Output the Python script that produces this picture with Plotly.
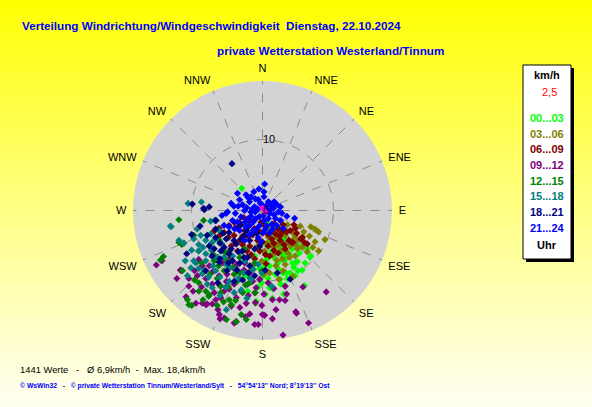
#### Import Modules ####
import numpy as np
import plotly.graph_objects as go


#### Global Objects ####
W, H = 592, 407

# Windrichtungen (Beschriftung der Winkelachse)
richtungen = ["N", "NNE", "NE", "ENE", "E", "ESE", "SE", "SSE",
              "S", "SSW", "SW", "WSW", "W", "WNW", "NW", "NNW"]
richtung_grad = [i * 22.5 for i in range(16)]

# Messpunkte je Zeitfenster als (Ost, Nord) Komponente in km/h, aus dem Bild geschaetzt
punkte_00_03 = [(4.9, -7.2), (6.7, -6.6), (3.3, -8.8), (3.9, -8.8), (3.2, -10.6), (5.9, -10.6),
                (1.5, -11.1), (2.2, -7.3), (2.7, -5.7), (2.8, -6.4), (1.0, -7.8), (0.1, -9.2),
                (-0.4, -8.2), (2.9, -4.0), (2.0, -3.5), (-0.9, -12.8), (-0.1, -10.2), (6.8, -6.4),
                (4.7, -7.3), (2.9, -8.8), (2.0, -7.6), (0.6, -6.9), (3.2, -5.9), (1.3, -5.7),
                (0.1, -8.1), (1.0, -10.9), (-1.0, -13.1), (-2.9, 3.1), (5.3, -5.0), (4.2, -5.4),
                (0.8, -2.8), (1.0, -4.2), (0.5, -1.7), (1.8, -5.0), (3.6, -4.2), (-1.1, -6.4),
                (-1.8, -7.8), (-2.5, -9.2), (4.2, -7.4), (5.0, -8.5), (2.5, -9.7), (-2.1, -11.4),
                (6.0, -7.4), (2.2, -8.2), (3.3, -6.8),
                (0.5, -4.8), (1.6, -6.6), (2.4, -5.2), (3.0, -7.0), (3.8, -6.2), (4.4, -8.0),
                (5.2, -6.0), (2.6, -10.4), (1.8, -9.0), (0.8, -9.6), (3.5, -9.6), (4.6, -9.2),
                (5.6, -8.4), (1.2, -3.4), (2.4, -4.4), (0.4, -6.0), (-0.6, -10.8), (0.4, -11.8),
                (1.4, -12.4), (3.0, -11.8), (6.3, -5.4), (4.0, -4.8), (1.9, -2.5), (0.9, -2.0)]
punkte_03_06 = [(6.8, -2.3), (7.9, -3.0), (8.8, -4.1), (7.9, -5.7), (7.1, -5.2), (6.3, -5.8),
                (4.9, -5.4), (3.9, -5.0), (3.2, -3.5), (2.5, -2.5), (1.8, -3.1), (4.2, -3.1),
                (5.0, -4.2), (5.6, -3.7), (3.6, -6.0), (2.8, -6.8), (1.9, -7.8), (2.9, -8.5),
                (1.0, -8.8), (2.3, -9.7), (0.3, -5.7), (1.3, -4.5), (0.8, -3.7), (2.2, -4.8),
                (4.2, -4.2), (5.3, -2.2), (4.3, -9.3), (-0.1, -7.1), (-0.7, -5.0), (3.5, -2.0),
                (6.0, -4.6), (4.6, -6.4), (1.5, -6.2), (0.2, -9.0), (-1.2, -7.6),
                (1.2, -2.2), (2.0, -3.8), (3.0, -2.8), (3.4, -4.6), (4.6, -3.6), (4.8, -5.0),
                (5.6, -5.2), (2.6, -5.6), (1.6, -5.2), (3.8, -6.6), (5.8, -3.0), (6.6, -3.6),
                (7.4, -4.4), (0.6, -4.6), (2.0, -7.0), (3.2, -7.6), (7.4, -2.6)]
punkte_06_09 = [(3.9, -2.8), (4.6, -2.5), (5.4, -4.0), (5.9, -4.5), (4.1, -4.5), (3.7, -4.2),
                (4.4, -2.0), (5.6, -3.8), (6.3, -4.7), (2.7, -3.1), (4.3, -4.5), (2.2, -2.6),
                (1.8, -3.3), (-4.7, -2.1), (-3.2, -1.7), (-1.8, -1.4), (-2.5, -2.8), (-1.1, -2.5),
                (-0.1, -3.1), (-0.7, -4.2), (-1.8, -5.0), (-3.2, -4.2), (-4.0, -3.5), (0.8, -5.0),
                (1.3, -4.0), (0.3, -2.1), (2.5, -4.2), (3.2, -5.4), (2.2, -6.0), (1.0, -6.4),
                (-4.4, -5.0), (-5.4, -3.1), (-2.2, -5.7), (-0.4, -5.7), (-1.1, -6.8), (-3.5, -5.7),
                (-6.1, -2.5), (-6.8, -2.9), (-6.1, -3.6), (0.5, -7.5), (1.6, -1.8), (-2.0, -3.6),
                (-3.8, -2.4), (-2.8, -3.6), (-2.0, -2.2), (-1.4, -3.4), (-0.6, -2.8), (0.0, -4.4),
                (0.8, -3.4), (1.6, -4.6), (2.4, -3.6), (3.0, -4.8), (3.4, -3.0), (-0.2, -1.6),
                (-1.0, -1.2), (-2.6, -1.0), (-3.8, -4.6), (-2.8, -4.8), (1.6, -5.6), (0.4, -6.2),
                (-1.6, -6.2), (-4.8, -3.8), (4.8, -3.2), (2.9, -2.0)]
punkte_09_12 = [(-15.0, -7.7), (-14.2, -7.1), (-12.1, -9.6), (-10.1, -15.6), (-9.4, -13.1),
                (-8.5, -13.1), (-7.8, -13.2), (-7.1, -13.2), (-6.3, -14.0), (-6.1, -14.7),
                (-5.4, -15.2), (-4.0, -15.9), (-3.7, -15.7), (-2.4, -15.0), (-1.8, -14.6),
                (-3.2, -13.7), (-4.4, -13.5), (-1.1, -16.1), (-0.6, -16.1), (-0.1, -13.4),
                (0.3, -14.8), (1.4, -12.6), (1.9, -14.0), (3.4, -11.8), (2.9, -17.6), (4.8, -14.5),
                (6.5, -15.9), (9.0, -11.5), (5.7, -10.8), (-1.1, -11.6), (0.0, -14.7), (1.4, -15.3),
                (-11.5, -8.5), (-8.0, -13.3), (-6.0, -15.3), (-2.3, -13.1), (4.7, -14.3),
                (3.2, -12.7), (3.2, -10.7), (-3.7, -12.3), (-4.7, -11.1), (-5.1, -10.0),
                (-8.5, -7.8), (-9.2, -9.2), (-6.8, -11.6), (-5.9, -12.3), (-3.2, -9.7),
                (-2.1, -10.4), (-0.9, -10.9), (-7.5, -7.8), (-6.1, -9.2), (-4.0, -8.2),
                (-2.5, -7.4), (-4.7, -6.8), (-6.8, -6.4), (-9.0, -6.9), (-5.4, -11.4),
                (-0.4, -9.7), (0.8, -10.2), (-1.8, -8.8), (-10.4, -10.7), (-9.6, -8.5),
                (-10.8, -12.2), (-7.1, -10.4), (-10.4, -9.6), (-11.6, -8.4),
                (-8.0, -9.6), (-7.0, -8.6), (-6.0, -10.6), (-5.0, -9.0), (-4.0, -10.4),
                (-3.0, -11.4), (-2.0, -12.0), (-1.0, -13.0), (-3.6, -7.6), (-5.6, -7.4),
                (-8.6, -10.8), (-1.4, -10.0), (0.2, -11.8), (-6.6, -12.6), (-2.6, -8.4),
                (1.6, -11.0), (2.4, -12.6), (-9.8, -11.4)]
punkte_12_15 = [(-11.8, -1.3), (-14.4, -7.0), (-14.0, -6.5), (-11.3, -8.5), (-10.4, -13.3),
                (-10.0, -13.4), (-8.3, -1.4), (-9.0, -10.2), (-8.0, -11.4), (-5.1, -15.4),
                (-3.0, -14.7), (-2.3, -15.4), (-11.8, -4.5), (-11.4, -4.8), (-11.1, -4.6),
                (-5.9, -10.7), (-9.7, -3.5), (-9.0, -11.4), (-7.5, -11.9), (-5.9, -11.6),
                (-4.7, -12.6), (-4.0, -9.0), (-7.6, -12.1), (-5.5, -12.9), (-3.8, -12.7),
                (-4.4, -13.3), (-2.4, -10.5), (-3.7, -15.7), (-6.8, -7.1), (-5.4, -8.5),
                (-7.5, -5.0), (-3.2, -8.8), (-1.8, -10.2), (-4.7, -5.7), (-9.0, -5.7),
                (-6.1, -4.2), (-8.2, -8.5), (-0.1, -8.5), (-1.1, -7.4), (-2.5, -5.4), (-10.6, -12.6),
                (-7.0, -6.2), (-6.2, -7.8), (-5.0, -7.0), (-4.2, -8.0), (-3.6, -10.0),
                (-4.8, -10.8), (-6.4, -9.6), (-7.4, -9.0), (-8.6, -7.4), (-2.8, -11.6),
                (-5.2, -6.0), (-3.2, -6.6), (-8.4, -12.6), (-6.4, -13.4), (-1.0, -11.6), (-9.6, -9.8)]
punkte_15_18 = [(-10.5, 1.0), (-13.0, -2.2), (-11.1, -4.6), (-9.7, -4.0), (-9.0, -4.8),
                (-10.9, -7.1), (-10.1, -8.1), (-9.4, -7.4), (-8.5, -8.9), (-8.0, -6.1),
                (-6.6, -4.0), (-5.7, -4.7), (-8.7, -3.5), (-11.8, -4.2), (-9.0, -5.7),
                (-9.7, -7.1), (-10.6, -9.2), (-7.3, -3.3), (-6.1, -2.8), (-6.7, -1.4),
                (-5.1, -14.0), (-7.1, -10.9), (-7.8, -10.4), (-4.7, -10.0), (-1.8, -9.5),
                (-0.1, -8.8), (-7.1, -4.5), (-5.9, -5.7), (-8.0, -7.1), (-8.2, -8.5),
                (-6.6, -8.5), (-5.1, -7.6), (-3.7, -8.3), (-2.5, -7.1), (-4.2, -6.4),
                (-1.3, -8.3), (1.3, -10.7), (-1.6, -9.7), (-8.6, 1.2), (-12.9, -2.3),
                (-6.5, -1.4), (-7.3, -1.5), (-3.0, -11.2), (-6.0, -12.0), (-2.2, -12.4),
                (-9.2, -2.6), (-8.0, -4.2), (-7.2, -5.6), (-6.4, -6.6), (-5.4, -6.6),
                (-4.6, -8.0), (-6.0, -9.4), (-7.0, -7.8), (-9.0, -8.2), (-3.4, -9.6),
                (-2.6, -8.8), (-5.2, -10.8), (-4.0, -11.6), (-7.6, -9.4), (-10.0, -5.6),
                (-8.4, -5.2), (-3.0, -5.8), (-0.6, -7.6)]
punkte_18_21 = [(-9.9, 0.9), (-8.3, 0.3), (-7.5, 0.5), (-4.3, 6.6), (-6.6, -1.4), (3.9, -9.7),
                (2.1, -8.8), (-10.0, -3.4), (-10.7, -6.1), (-8.0, -8.5), (-6.0, -6.8), (-8.2, 0.1),
                (-4.7, -6.1), (-6.6, -3.8), (-5.1, -4.0), (-5.4, -5.2), (-3.7, -4.7), (-2.8, -5.7),
                (-2.1, -6.6), (-4.2, -7.1), (-6.1, -7.3), (-7.1, -6.4), (-7.8, -3.5), (-6.6, -2.6),
                (-2.5, -3.5), (-1.8, -4.2), (-3.5, -2.5), (-4.7, -3.1), (-1.1, -5.4), (-3.2, -7.4),
                (-5.0, -8.5), (-1.8, -7.8), (-4.0, -10.0), (-1.1, -9.2), (-5.8, -5.7), (-7.5, -5.0),
                (-6.3, -10.2), (-3.0, -2.0), (-0.8, -3.2),
                (-2.2, -2.8), (-3.0, -4.0), (-4.0, -4.2), (-4.4, -5.4), (-3.4, -5.8), (-2.6, -6.6),
                (-3.6, -8.4), (-4.8, -7.4), (-6.0, -4.6), (-5.6, -3.2), (-2.0, -8.8), (-0.4, -5.0),
                (-1.4, -3.2), (-6.8, -5.4), (-8.8, -2.2), (-4.0, -1.6), (-2.8, -9.8), (0.4, -8.4)]
punkte_21_24 = [(0.3, 3.7), (-0.5, 3.0), (-3.5, 2.4), (0.2, 1.9), (1.6, 1.2), (0.8, 1.2),
                (4.5, -1.1), (2.7, -0.4), (-5.7, -0.7), (-5.1, -0.4), (-2.1, -1.2), (0.9, 1.1),
                (1.7, 1.1), (-4.9, -0.2), (-4.2, -1.4), (-4.7, -2.3), (-3.2, 1.5), (-2.8, 0.8),
                (-1.8, 1.2), (-2.5, 0.0), (-1.6, -0.2), (-1.1, 0.5), (-0.9, -1.1), (0.1, -0.7),
                (1.0, -0.4), (1.8, -1.1), (1.3, -1.9), (2.0, -2.1), (0.6, -2.1), (-0.4, -2.1),
                (-1.3, -1.6), (-3.0, -0.9), (-3.5, -1.6), (-2.3, -2.3), (-1.3, -2.8), (0.1, -3.1),
                (-0.6, -3.8), (1.0, -3.1), (2.5, 0.5), (1.5, 0.3), (-0.6, 1.5), (-2.3, 2.2),
                (-1.6, 1.9), (1.0, 0.0), (-0.1, 0.8), (-1.0, -0.2), (-1.8, -2.1), (0.8, -1.1),
                (-3.2, -2.8), (-5.4, -2.1), (-2.5, -4.2), (2.5, -1.4), (2.9, -2.5), (-4.0, 0.6),
                (0.5, 0.6), (-0.3, 1.0),
                (-3.8, -0.4), (-3.4, 0.6), (-2.2, 0.4), (-1.4, 0.2), (-0.6, 0.2), (0.4, 0.2),
                (0.2, -1.4), (-0.4, -0.8), (-1.6, -0.8), (-2.4, -1.6), (-0.8, -2.6), (0.4, -2.6),
                (1.4, -2.6), (1.6, -0.6), (2.2, -0.2), (-3.9, -2.6), (-2.0, 1.8), (-1.0, 1.6),
                (0.2, 2.6), (-1.2, 2.6), (1.2, 0.6), (2.0, 0.8), (-4.4, 1.0), (3.4, -0.8),
                (-0.2, -4.4), (-1.8, -3.4)]
punkte_aktuell = [(0.0, 0.3), (0.4, -0.2)]

zeitfenster = ["00...03", "03...06", "06...09", "09...12", "12...15", "15...18", "18...21", "21...24"]
farben = ["#00FF00", "#808000", "#800000", "#800080", "#008000", "#008080", "#000080", "#0000FF"]
alle_punkte = [punkte_00_03, punkte_03_06, punkte_06_09, punkte_09_12,
               punkte_12_15, punkte_15_18, punkte_18_21, punkte_21_24]

anzahl_werte = 1441
mittel_kmh = "6,9"
max_kmh = "18,4"


#### Define Functions ####
def to_polar(punkte):
    arr = np.array(punkte, dtype=float)
    ost, nord = arr[:, 0], arr[:, 1]
    speed = np.hypot(ost, nord)
    direction = np.degrees(np.arctan2(ost, nord)) % 360
    return direction, speed


def px(x):
    return x / W


def py(y):
    return 1 - y / H


def build_plot():
    fig = go.Figure()

    for name, color, punkte in zip(zeitfenster, farben, alle_punkte):
        theta, r = to_polar(punkte)
        fig.add_trace(go.Scatterpolar(theta=theta, r=r, mode="markers", name=name,
                                      marker=dict(symbol="diamond", size=5.5, color=color),
                                      showlegend=False))

    theta, r = to_polar(punkte_aktuell)
    fig.add_trace(go.Scatterpolar(theta=theta, r=r, mode="markers", showlegend=False,
                                  marker=dict(symbol="diamond", size=5, color="#FF00FF")))

    # yellow gradient background, top to bottom
    shapes = []
    n = 50
    for i in range(n):
        t = i / (n - 1)
        b = int(240 * t ** 0.9)
        shapes.append(dict(type="rect", xref="paper", yref="paper", x0=0, x1=1,
                           y0=1 - (i + 1) / n, y1=1 - i / n + 0.002, layer="below",
                           line=dict(width=0), fillcolor=f"rgb(255,255,{b})"))

    # legend box with shadow
    shapes.append(dict(type="rect", xref="paper", yref="paper", x0=px(526), x1=px(574),
                       y0=py(262), y1=py(68), fillcolor="black", line=dict(width=0)))
    shapes.append(dict(type="rect", xref="paper", yref="paper", x0=px(523), x1=px(571),
                       y0=py(259), y1=py(65), fillcolor="white", line=dict(color="black", width=1)))

    ann = []
    ann.append(dict(x=px(20), y=py(25), text="<b>Verteilung Windrichtung/Windgeschwindigkeit  Dienstag, 22.10.2024</b>",
                    xanchor="left", font=dict(size=11.7, color="#0000FF")))
    ann.append(dict(x=px(215), y=py(50), text="<b>private Wetterstation Westerland/Tinnum</b>",
                    xanchor="left", font=dict(size=11.7, color="#0000FF")))
    ann.append(dict(x=px(18), y=py(369),
                    text=f"{anzahl_werte} Werte   -   Ø {mittel_kmh}km/h  -  Max. {max_kmh}km/h",
                    xanchor="left", font=dict(size=9.4, color="black")))
    ann.append(dict(x=px(18), y=py(386),
                    text="<b>© WsWin32   -   © private Wetterstation Tinnum/Westerland/Sylt   -   54°54'13'' Nord; 8°19'13'' Ost</b>",
                    xanchor="left", font=dict(size=6.8, color="#0000FF")))

    ann.append(dict(x=px(547), y=py(75), text="<b>km/h</b>", font=dict(size=11, color="black")))
    ann.append(dict(x=px(549), y=py(92), text="2,5", font=dict(size=11, color="#FF0000")))
    leg_y = [118, 134, 149, 165, 181, 196, 212, 228]
    for name, color, yy in zip(zeitfenster, farben, leg_y):
        ann.append(dict(x=px(547), y=py(yy), text=f"<b>{name}</b>", font=dict(size=11, color=color)))
    ann.append(dict(x=px(547), y=py(245), text="<b>Uhr</b>", font=dict(size=11, color="black")))
    for a in ann:
        a.update(xref="paper", yref="paper", showarrow=False, yanchor="middle")
        a.setdefault("xanchor", "center")

    fig.update_layout(
        width=W, height=H,
        margin=dict(l=0, r=0, t=0, b=0),
        paper_bgcolor="#FFFF00",
        font=dict(family="Liberation Sans, Arial, sans-serif", color="black"),
        shapes=shapes,
        annotations=ann,
        polar=dict(
            domain=dict(x=[px(133), px(392)], y=[py(340), py(81)]),
            bgcolor="#D3D3D3",
            angularaxis=dict(rotation=90, direction="clockwise",
                             tickvals=richtung_grad, ticktext=richtungen,
                             showline=False, ticks="outside", ticklen=4,
                             tickcolor="rgba(0,0,0,0)",
                             gridcolor="#8C8C8C", griddash="dash", gridwidth=1,
                             tickfont=dict(size=11, color="black")),
            radialaxis=dict(range=[-0.05, 18.3], tickvals=[0, 10], ticktext=["0", "10"],
                            angle=90, tickangle=90, side="clockwise", showline=False, ticks="",
                            gridcolor="#8C8C8C", griddash="dash", gridwidth=1,
                            tickfont=dict(size=11, color="black")),
        ),
    )
    return fig


#### Main Actions ####
if __name__ == "__main__":
    fig = build_plot()
    fig.write_html("out.html", config={"displayModeBar": False},
                   post_script="document.body.style.margin='0px';")
